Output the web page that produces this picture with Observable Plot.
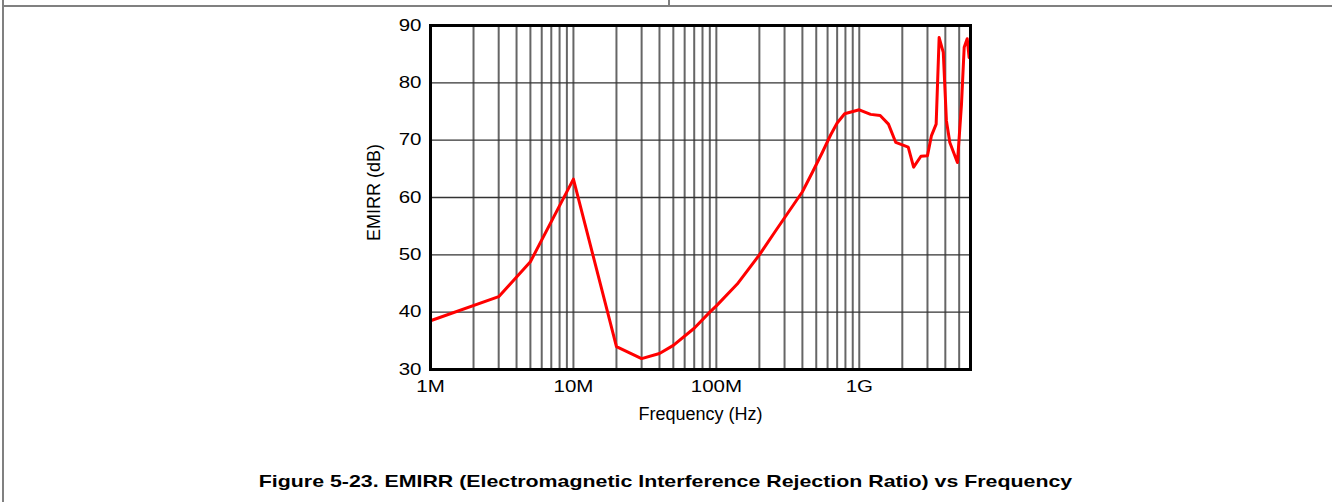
<!DOCTYPE html>
<html><head><meta charset="utf-8">
<script src="https://cdn.jsdelivr.net/npm/d3@7"></script>
<script src="https://cdn.jsdelivr.net/npm/@observablehq/plot@0.6"></script>
<style>
body{margin:0;background:#fff;}
#wrap{position:relative;width:1332px;height:502px;overflow:hidden;font-family:"Liberation Sans",Arial,sans-serif;color:#000;}
.ln{position:absolute;background:#808080;}
#chart{position:absolute;left:0;top:0;}
#cap{position:absolute;left:0;width:1332px;top:472px;text-align:center;font-weight:bold;font-size:17px;transform:scaleX(1.255);transform-origin:668px 0;}
</style></head><body>
<div id="wrap">
<div class="ln" style="left:2px;top:0;width:2px;height:502px"></div>
<div class="ln" style="left:2px;top:5px;width:1330px;height:2px"></div>
<div class="ln" style="left:668px;top:0;width:2px;height:6px"></div>
<div id="chart"></div>
<div id="cap"></div>
</div>
<script>
const freqHz = [1e6, 3e6, 5e6, 10e6, 20e6, 30e6, 40e6, 50e6, 70e6, 90e6, 100e6, 140e6, 200e6, 260e6, 400e6, 470e6, 550e6, 630e6, 700e6, 790e6, 1e9, 1.2e9, 1.4e9, 1.6e9, 1.8e9, 2.2e9, 2.4e9, 2.7e9, 3.0e9, 3.2e9, 3.45e9, 3.62e9, 3.87e9, 4.07e9, 4.3e9, 4.86e9, 5.19e9, 5.42e9, 5.69e9, 5.87e9];
const emirrDb = [38.5, 42.7, 48.8, 63.2, 34.0, 31.9, 32.8, 34.2, 37.2, 40.0, 41.1, 44.9, 50.0, 54.2, 61.0, 64.4, 67.8, 70.9, 73.0, 74.6, 75.3, 74.5, 74.3, 72.8, 69.6, 68.8, 65.3, 67.2, 67.3, 70.8, 72.8, 87.9, 85.3, 73.4, 69.6, 66.1, 76.3, 86.2, 87.7, 84.4];
const xTickValues = [1e6, 1e7, 1e8, 1e9];
const xTickLabels = ["1M", "10M", "100M", "1G"];
const yTickValues = [30, 40, 50, 60, 70, 80, 90];
const xTitle = "Frequency (Hz)";
const yTitle = "EMIRR (dB)";
const captionText = "Figure 5-23. EMIRR (Electromagnetic Interference Rejection Ratio) vs Frequency";
const xDomain = [1e6, 6e9];
const yDomain = [30, 90];

const xGrid = [];
for (const dec of xTickValues) for (let m = 1; m <= 9; m++) { const v = m * dec; if (v <= xDomain[1]) xGrid.push(v); }
const data = freqHz.map((f, i) => ({f, db: emirrDb[i]}));

const chart = Plot.plot({
  width: 1332, height: 430,
  marginLeft: 430, marginRight: 362, marginTop: 25, marginBottom: 61,
  style: {fontFamily: '"Liberation Sans", Arial, sans-serif', fontSize: "16px", background: "transparent", overflow: "visible", color: "#000"},
  x: {type: "log", domain: xDomain},
  y: {domain: yDomain},
  marks: [
    Plot.gridX(xGrid, {stroke: "#666", strokeWidth: 2, strokeOpacity: 1}),
    Plot.gridY(yTickValues, {stroke: "#333", strokeWidth: 1.3, strokeOpacity: 1}),
    Plot.axisX(xTickValues, {tickSize: 0, tickPadding: 11, tickFormat: d => xTickLabels[xTickValues.indexOf(d)], label: null}),
    Plot.axisY(yTickValues, {tickSize: 0, tickPadding: 9, tickFormat: d => String(d), label: null}),
    Plot.text([xTitle], {frameAnchor: "bottom", dy: 38, lineAnchor: "top", fontSize: 18, fill: "#000", text: d => d, ariaLabel: "x-title"}),
    Plot.text([yTitle], {frameAnchor: "left", textAnchor: "middle", dx: -56, dy: -5, rotate: -90, fontSize: 18, fill: "#000", text: d => d}),
    Plot.line(data, {x: "f", y: "db", stroke: "#ff0000", strokeWidth: 3, strokeLinejoin: "round"}),
    Plot.frame({stroke: "#000", strokeWidth: 3})
  ]
});
document.getElementById("chart").appendChild(chart);
document.getElementById("cap").textContent = captionText;

// widen text glyphs horizontally about their anchor, keeping Plot's placement
function stretchText(svg, selector, s, anchor) {
  svg.querySelectorAll(selector).forEach(t => {
    const b = t.getBBox();
    const ax = anchor === "end" ? b.x + b.width : b.x + b.width / 2;
    const tr = t.getAttribute("transform") || "";
    t.setAttribute("transform", `${tr} translate(${ax},0) scale(${s},1) translate(${-ax},0)`.trim());
  });
}
stretchText(chart, 'g[aria-label="x-axis tick label"] text', 1.28, "middle");
stretchText(chart, 'g[aria-label="y-axis tick label"] text', 1.28, "end");
stretchText(chart, 'g[aria-label="x-title"] text', 1.1, "middle");
</script>
</body></html>
